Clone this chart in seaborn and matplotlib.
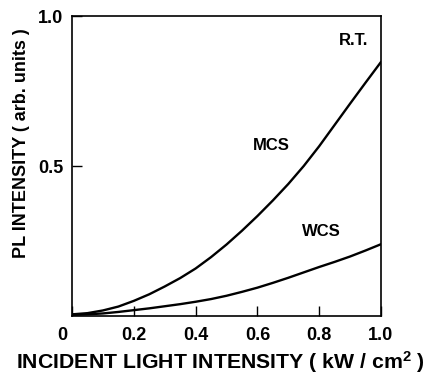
import matplotlib
matplotlib.use("Agg")
import matplotlib.pyplot as plt
import matplotlib.transforms as mtransforms
import seaborn as sns
import pandas as pd

# data
x_vals = [0.0, 0.05, 0.1, 0.15, 0.2, 0.25, 0.3, 0.35, 0.4, 0.45, 0.5,
          0.55, 0.6, 0.65, 0.7, 0.75, 0.8, 0.85, 0.9, 0.95, 1.0]
mcs = [0.005, 0.009, 0.018, 0.031, 0.050, 0.072, 0.098, 0.126, 0.158, 0.196, 0.238,
       0.284, 0.333, 0.385, 0.440, 0.500, 0.566, 0.637, 0.708, 0.778, 0.847]
wcs = [0.003, 0.005, 0.008, 0.013, 0.019, 0.025, 0.032, 0.039, 0.047, 0.056, 0.067,
       0.080, 0.094, 0.110, 0.127, 0.145, 0.163, 0.180, 0.198, 0.218, 0.239]
x_ticks = [0, 0.2, 0.4, 0.6, 0.8, 1.0]
x_tick_labels = ["0", "0.2", "0.4", "0.6", "0.8", "1.0"]
y_ticks = [0.5, 1.0]
y_tick_labels = ["0.5", "1.0"]

sns.set_theme(style="ticks")
plt.rcParams["font.family"] = ["Liberation Sans", "DejaVu Sans"]
plt.rcParams["font.weight"] = "bold"
plt.rcParams["mathtext.default"] = "regular"
plt.rcParams["text.color"] = "black"
plt.rcParams["axes.labelcolor"] = "black"

df = pd.DataFrame({
    "x": x_vals * 2,
    "y": mcs + wcs,
    "series": ["MCS"] * len(x_vals) + ["WCS"] * len(x_vals),
})

fig = plt.figure(figsize=(4.29, 3.76), dpi=100)
ax = fig.add_axes([0.168, 0.160, 0.720, 0.797])
sns.lineplot(data=df, x="x", y="y", units="series", estimator=None,
             color="black", linewidth=1.7, ax=ax, legend=False)

ax.set_xlim(0, 1.0)
ax.set_ylim(0, 1.0)
ax.set_xticks(x_ticks)
ax.set_xticklabels(x_tick_labels)
ax.set_yticks(y_ticks)
ax.set_yticklabels(y_tick_labels)
ax.tick_params(direction="in", length=7, width=1.0, color="black",
               labelsize=13, labelcolor="black")
ax.tick_params(axis="x", pad=8)
ax.tick_params(axis="y", pad=6.5)
for s in ax.spines.values():
    s.set_visible(True)
    s.set_color("black")
    s.set_linewidth(1.2)

# the "0" label sits slightly left of the origin in the reference
lbl0 = ax.get_xticklabels()[0]
lbl0.set_transform(lbl0.get_transform() +
                   mtransforms.ScaledTranslation(-10 / 100, 0, fig.dpi_scale_trans))

ax.set_xlabel("INCIDENT LIGHT INTENSITY ( kW / cm$^{2}$ )", fontsize=15.3,
              fontweight="bold", color="black")
ax.xaxis.label.set_va("baseline")
ax.xaxis.set_label_coords(0.482, -0.178)

ax.set_ylabel("PL INTENSITY ( arb. units )", fontsize=13, color="black",
              fontweight="bold", family=["Liberation Sans Narrow", "Liberation Sans"])
ax.yaxis.label.set_va("center")
ax.yaxis.set_label_coords(-0.165, 0.577)

ax.text(0.91, 0.92, "R.T.", fontsize=12, fontweight="bold", ha="center", va="center", color="black")
ax.text(0.646, 0.57, "MCS", fontsize=12, fontweight="bold", ha="center", va="center", color="black")
ax.text(0.808, 0.28, "WCS", fontsize=12, fontweight="bold", ha="center", va="center", color="black")

fig.savefig("out.png", dpi=100, facecolor="white")
